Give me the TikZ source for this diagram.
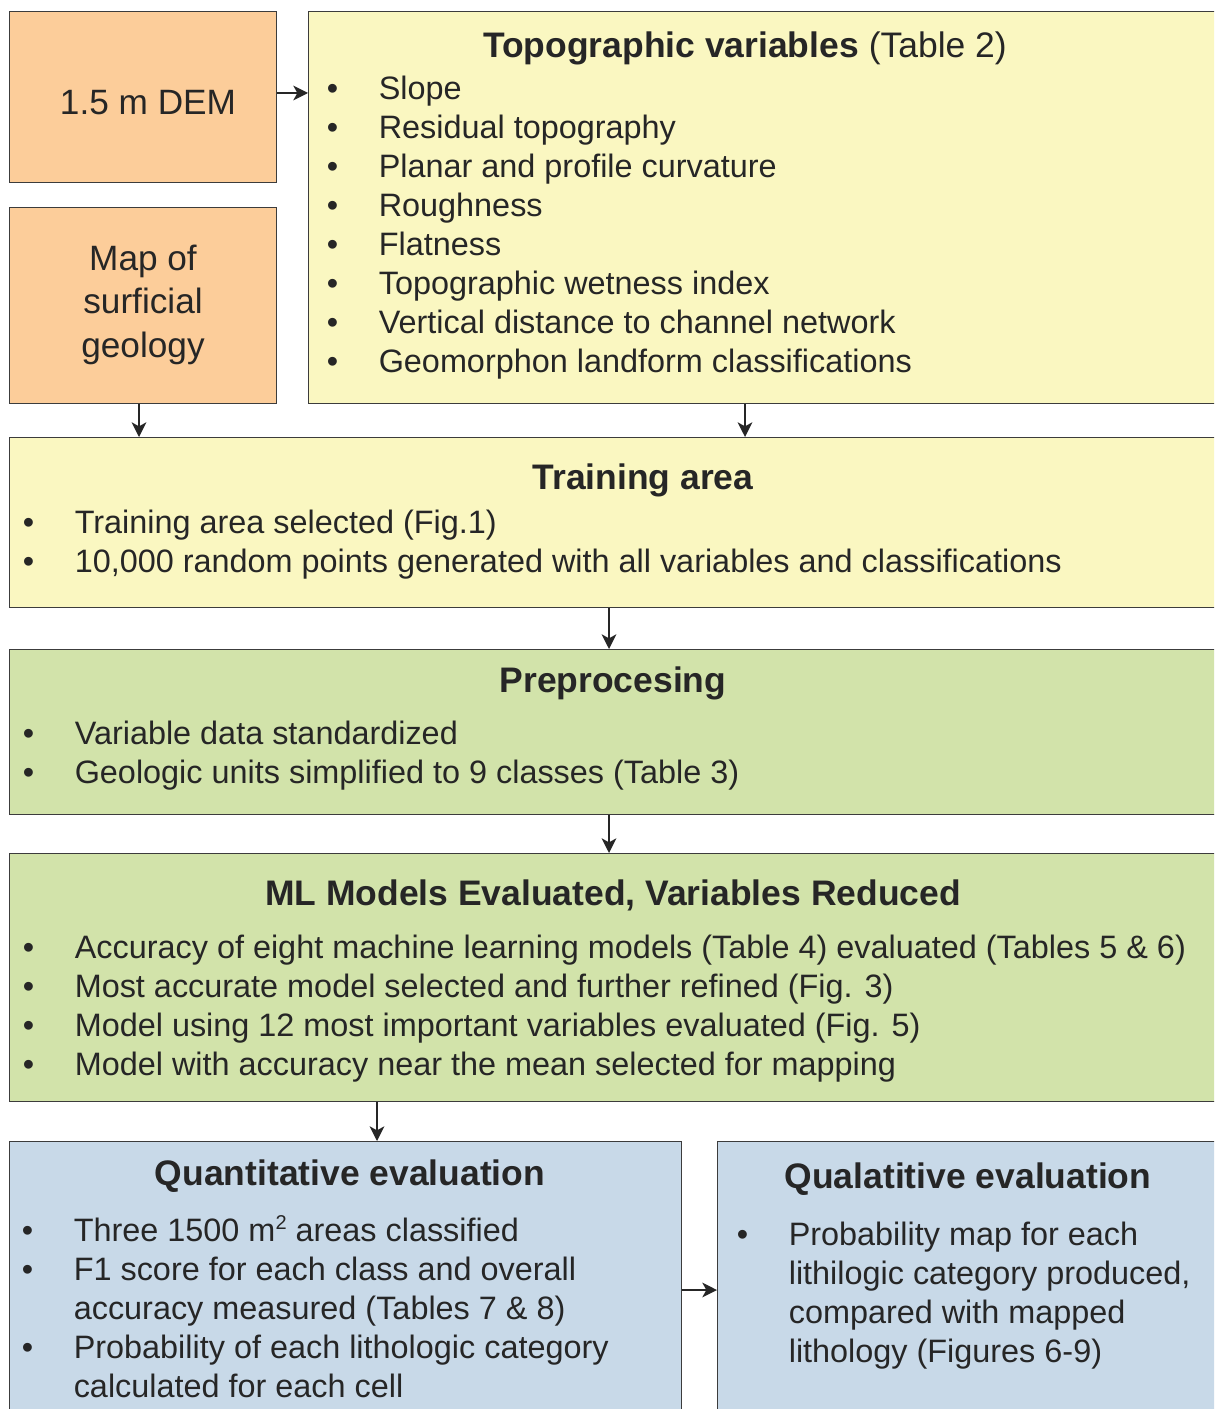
\documentclass[tikz,border=0pt]{standalone}
\usepackage{fontspec}
\setmainfont{Liberation Sans}
\usetikzlibrary{positioning}
\usetikzlibrary{arrows.meta}
\usetikzlibrary{shapes}

\definecolor{inputorange}{HTML}{FCCD9A}
\definecolor{stepyellow}{HTML}{FAF7C1}
\definecolor{stepgreen}{HTML}{D2E3AA}
\definecolor{stepblue}{HTML}{C8D9E8}
\definecolor{edgegray}{HTML}{3C3C3C}

% bullet lines with a hanging indent
\newlength{\bulletgap}
\setlength{\bulletgap}{39pt}
\newcommand{\bitem}[1]{\makebox[\bulletgap][l]{\textbullet}#1}
\newcommand{\bcont}[1]{\hspace*{\bulletgap}#1}

\tikzset{
        box/.style={draw=edgegray, line width=0.9pt, anchor=north west, inner sep=0pt},
        % Input data
        box_input/.style={box, fill=inputorange},
        % Variables and training
        box_yellow/.style={box, fill=stepyellow},
        % Modelling steps
        box_green/.style={box, fill=stepgreen},
        % Evaluation
        box_blue/.style={box, fill=stepblue},
        % Texts (multi-line nodes sit on the baseline of their last line)
        box_title/.style={inner sep=0pt, anchor=base, font=\fontsize{26.6}{30}\selectfont},
        box_list/.style={inner sep=0pt, anchor=base west, align=left, font=\fontsize{24.3}{29.25}\selectfont},
        box_big/.style={inner sep=0pt, anchor=base, align=center, font=\fontsize{26.4}{32.6}\selectfont}
}

\begin{document}
\begin{tikzpicture}[
            ->,
            >={Stealth[length=11pt, width=11pt, inset=3pt]},
            line width=1.2pt,
            color=black!85,
            x=0.75pt, y=-0.75pt
        ]
            \useasboundingbox (0,0) rectangle (1214,1409);
            \clip (0,0) rectangle (1214,1409);

            % boxes
            \node[box_input, minimum width=200.25pt, minimum height=128.25pt] (dem) at (9,11) {};
            \node[box_input, minimum width=200.25pt, minimum height=147pt] (map) at (9,207) {};
            \node[box_yellow, minimum width=691.5pt, minimum height=294pt] (topo) at (308,11) {};
            \node[box_yellow, minimum width=915.75pt, minimum height=127.5pt] (train) at (9,437) {};
            \node[box_green, minimum width=915.75pt, minimum height=123.75pt] (prep) at (9,649) {};
            \node[box_green, minimum width=915.75pt, minimum height=186pt] (ml) at (9,853) {};
            \node[box_blue, minimum width=504pt, minimum height=216.75pt] (quant) at (9,1141) {};
            \node[box_blue, minimum width=384.75pt, minimum height=216.75pt] (qual) at (717,1141) {};

            % inputs
            \node[box_big] (demtext) at (148,115) {1.5 m DEM};
            \node[box_big] (maptext) at (143,357) {Map of\\surficial\\geology};

            % topographic variables
            \node[box_title] (topotitle) at (745,58) {\textbf{Topographic variables} (Table 2)};
            \node[box_list] (topolist) at (326,372) {
                \bitem{Slope}\\
                \bitem{Residual topography}\\
                \bitem{Planar and profile curvature}\\
                \bitem{Roughness}\\
                \bitem{Flatness}\\
                \bitem{Topographic wetness index}\\
                \bitem{Vertical distance to channel network}\\
                \bitem{Geomorphon landform classifications}};

            % training area
            \node[box_title] (traintitle) at (643,489) {\textbf{Training area}};
            \node[box_list] (trainlist) at (22,572) {
                \bitem{Training area selected (Fig.1)}\\
                \bitem{10,000 random points generated with all variables and classifications}};

            % preprocessing
            \node[box_title] (preptitle) at (613,692) {\textbf{Preprocesing}};
            \node[box_list] (preplist) at (22,783) {
                \bitem{Variable data standardized}\\
                \bitem{Geologic units simplified to 9 classes (Table 3)}};

            % models
            \node[box_title] (mltitle) at (613,905) {\textbf{ML Models Evaluated, Variables Reduced}};
            \node[box_list] (mllist) at (22,1075) {
                \bitem{Accuracy of eight machine learning models (Table 4) evaluated (Tables 5 \& 6)}\\
                \bitem{Most accurate model selected and further refined (Fig. 3)}\\
                \bitem{Model using 12 most important variables evaluated (Fig. 5)}\\
                \bitem{Model with accuracy near the mean selected for mapping}};

            % evaluation
            \node[box_title] (quanttitle) at (350,1185) {\textbf{Quantitative evaluation}};
            \node[box_list] (quantlist) at (21,1397) {
                \bitem{Three 1500 m{\fontsize{15}{15}\selectfont\raisebox{9pt}{2}} areas classified}\\
                \bitem{F1 score for each class and overall}\\
                \bcont{accuracy measured (Tables 7 \& 8)}\\
                \bitem{Probability of each lithologic category}\\
                \bcont{calculated for each cell}};
            \node[box_title] (qualtitle) at (968,1188) {\textbf{Qualatitive evaluation}};
            \node[box_list] (quallist) at (736,1362) {
                \bitem{Probability map for each}\\
                \bcont{lithilogic category produced,}\\
                \bcont{compared with mapped}\\
                \bcont{lithology (Figures 6-9)}};

            % arrows
            \coordinate (topodrop) at (745,0);
            \coordinate (maindrop) at (609,0);
            \coordinate (evaldrop) at (377,0);
            \coordinate (evallink) at (0,1290);
            \draw (dem.east |- 0,93) -- (topo.west |- 0,93);
            \draw (map.south -| 139,0) -- (train.north -| 139,0);
            \draw (topo.south -| topodrop) -- (train.north -| topodrop);
            \draw (train.south -| maindrop) -- (prep.north -| maindrop);
            \draw (prep.south -| maindrop) -- (ml.north -| maindrop);
            \draw (ml.south -| evaldrop) -- (quant.north -| evaldrop);
            \draw (quant.east |- evallink) -- (qual.west |- evallink);
        \end{tikzpicture}
\end{document}
